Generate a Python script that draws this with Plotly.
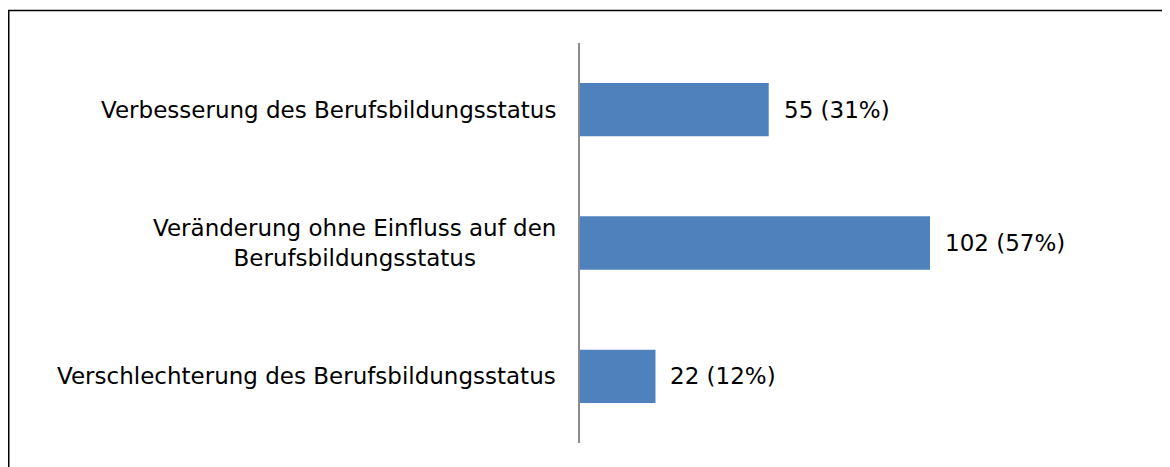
import plotly.graph_objects as go

# Data
categories = [
    "Verbesserung des Berufsbildungsstatus",
    "Veränderung ohne Einfluss auf den<br>Berufsbildungsstatus",
    "Verschlechterung des Berufsbildungsstatus",
]
counts = [55, 102, 22]
percents = [31, 57, 12]

bar_color = "#4F81BD"
font_family = "DejaVu Sans, Liberation Sans, sans-serif"

# Plot area in pixels (page has an 8px body margin)
W, H = 1170, 467
left, right, top, bottom = 572, 1121, 35, 435

fig = go.Figure()
fig.add_trace(go.Bar(
    x=counts,
    y=categories,
    orientation="h",
    marker=dict(color=bar_color, line=dict(width=0)),
    hoverinfo="skip",
))

# category labels (centered lines, right-aligned block)
for cat in categories:
    fig.add_annotation(
        x=0, xref="paper", y=cat, yref="y",
        text=cat, showarrow=False,
        xanchor="right", align="center", xshift=-22,
        font=dict(family=font_family, size=23, color="#000000"),
    )

# value labels
for cat, n, p in zip(categories, counts, percents):
    fig.add_annotation(
        x=n, xref="x", y=cat, yref="y",
        text=f"{n} ({p}%)", showarrow=False,
        xanchor="left", xshift=13,
        font=dict(family=font_family, size=23, color="#000000"),
    )

# outer frame (runs past right and bottom edges like the reference)
pw, ph = right - left, bottom - top
fig.add_shape(
    type="rect", xref="paper", yref="paper",
    x0=(0.75 - left) / pw, x1=(W + 20 - left) / pw,
    y0=(bottom - (H + 20)) / ph, y1=(bottom - 2.5) / ph,
    line=dict(color="#000000", width=1.5),
    fillcolor="rgba(0,0,0,0)", layer="above",
)

fig.update_layout(
    width=W, height=H,
    margin=dict(l=left, r=W - right, t=top, b=H - bottom),
    paper_bgcolor="white", plot_bgcolor="white",
    showlegend=False,
    bargap=0.6,
    font=dict(family=font_family, size=23, color="#000000"),
    xaxis=dict(range=[0, 160], visible=False, fixedrange=True),
    yaxis=dict(
        range=[2.5, -0.5], showticklabels=False, ticks="",
        showline=True, linecolor="#8C8C8C", linewidth=2,
        showgrid=False, zeroline=False, fixedrange=True,
    ),
)

fig.write_html("out.html")
